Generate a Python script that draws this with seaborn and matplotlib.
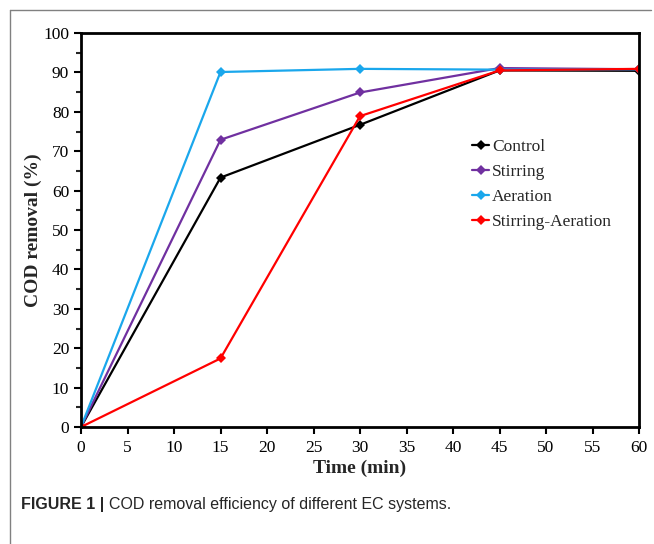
import pandas as pd
import matplotlib
matplotlib.use("Agg")
import matplotlib.pyplot as plt
from matplotlib.lines import Line2D
from matplotlib.ticker import MultipleLocator
import seaborn as sns

# Data
time_min = [0, 15, 30, 45, 60]
control = [0, 63.3, 76.7, 90.5, 90.4]
stirring = [0, 72.9, 84.9, 91.1, 90.8]
aeration = [0, 90.1, 90.9, 90.7, 90.8]
stirring_aeration = [0, 17.4, 78.9, 90.5, 90.9]

systems = ["Control", "Stirring", "Aeration", "Stirring-Aeration"]
colors = ["#000000", "#7030A0", "#1AA7EC", "#FF0000"]

df = pd.DataFrame({
    "Time": time_min * 4,
    "COD": control + stirring + aeration + stirring_aeration,
    "System": [s for s in systems for _ in time_min],
})

sns.set_style("ticks")
plt.rcParams["font.family"] = ["Liberation Serif", "DejaVu Serif"]

fig = plt.figure(figsize=(6.54, 5.44), dpi=100)
ax = fig.add_axes([81 / 654, 117 / 544, 558 / 654, 394 / 544])

sns.lineplot(data=df, x="Time", y="COD", hue="System", style="System",
             palette=dict(zip(systems, colors)),
             markers={s: "D" for s in systems}, dashes=False,
             markersize=5, markeredgewidth=0, linewidth=1.6,
             ax=ax, legend=False)

ax.set_xlim(0, 60)
ax.set_ylim(0, 100)
ax.xaxis.set_major_locator(MultipleLocator(5))
ax.yaxis.set_major_locator(MultipleLocator(10))
ax.yaxis.set_minor_locator(MultipleLocator(5))
ax.tick_params(axis="both", which="major", direction="out", length=5, width=1.5,
               labelsize=12.5, colors="black")
ax.tick_params(axis="x", which="major", pad=4)
ax.tick_params(axis="y", which="minor", direction="out", length=3.5, width=1.5)
for sp in ax.spines.values():
    sp.set_visible(True)
    sp.set_linewidth(2)
    sp.set_color("black")

ax.set_xlabel("Time (min)", fontsize=14, fontweight="bold", labelpad=3)
ax.set_ylabel("COD removal (%)", fontsize=14, fontweight="bold", labelpad=1)

handles = [Line2D([], [], color=c, marker="D", markersize=5, markeredgewidth=0,
                  linewidth=1.6) for c in colors]
ax.legend(handles, systems, loc="upper left", bbox_to_anchor=(472 / 654, 1 - 139 / 544),
          bbox_transform=fig.transFigure, frameon=False, fontsize=12.5,
          handlelength=1.0, handletextpad=0.15, labelspacing=0.5,
          borderpad=0, borderaxespad=0)

# outer frame lines (top and left)
fig.add_artist(Line2D([10 / 654, 651 / 654], [1 - 10 / 544, 1 - 10 / 544],
                      transform=fig.transFigure, color="#808080", linewidth=1))
fig.add_artist(Line2D([10 / 654, 10 / 654], [1 - 10 / 544, 0],
                      transform=fig.transFigure, color="#808080", linewidth=1))

cap_font = ["Liberation Sans Narrow", "Liberation Sans", "DejaVu Sans"]
t1 = fig.text(21 / 654, 1 - 504 / 544, "FIGURE 1 | ", fontsize=11.5, fontweight="bold",
              family=cap_font, va="center", ha="left")
fig.canvas.draw()
bb = t1.get_window_extent()
fig.text(bb.x1 / 654, 1 - 504 / 544, "COD removal efficiency of different EC systems.",
         fontsize=11.5, family=cap_font, va="center", ha="left")

fig.savefig("out.png", dpi=100)
